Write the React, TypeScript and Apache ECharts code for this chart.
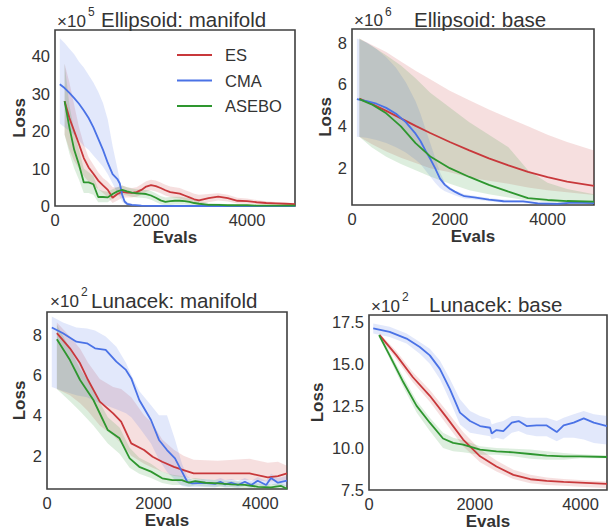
import React, { useEffect, useRef } from "react";
import * as echarts from "echarts";

// ---------- shared ticks ----------
const xTicks = [0, 2000, 4000];
const p1YTicks = [0, 10, 20, 30, 40];
const p2YTicks = [2, 4, 6, 8];
const p3YTicks = [2, 4, 6, 8];
const p4YTicks = [7.5, 10, 12.5, 15, 17.5];

// ---------- Panel 1: Ellipsoid manifold (x1e5) ----------
const p1X = [200,300,400,500,600,700,800,900,1000,1100,1200,1300,1400,1500,1600,1700,1800,1900,2000,2100,2200,2300,2400,2500,2600,2700,2800,2900,3000,3200,3400,3600,3800,4000,4200,4400,4600,4800,5000];
const p1EsMean = [28,23.5,20,16.5,12.8,10.3,8.6,6.8,5.5,4.3,2.2,3.2,3.8,3.6,3.5,3.7,4.3,5.2,5.6,5.3,4.8,4.2,3.7,3.5,3.3,2.8,2.3,1.8,1.5,2.1,2.5,2.1,1.4,1.3,1.0,0.8,0.7,0.6,0.5];
const p1EsHi = [38,33,27,21,16.5,13,11,9,7.5,6.5,5,5,5.5,5,4.8,5,5.8,6.6,7,6.8,6.3,5.7,5.2,5,4.8,4.3,3.8,3.3,3,3.2,3.4,3,2.2,2,1.6,1.3,1.1,0.9,0.8];
const p1EsLo = [19,15,12,10,8,6.5,5.5,4.5,3.5,2.3,0.8,1.5,2.2,2.3,2.3,2.5,3,3.8,4.2,3.9,3.4,2.8,2.4,2.2,2,1.5,1,0.6,0.4,1,1.5,1.2,0.7,0.6,0.5,0.4,0.3,0.3,0.3];
const p1AsMean = [28,21,15,11,6.3,6.3,5.8,2.4,2.4,2.3,3.2,3.9,4.3,3.9,3.6,3.4,3.3,3.2,2.8,2.2,1.5,1.1,1.3,1.4,1.4,1.3,1.1,0.8,0.6,0.3,0.3,0.2,0.2,0.2,0.1,0.1,0.1,0.1,0.1];
const p1AsHi = [38,27,20,15,10,9,8,4.5,4,3.8,4.5,5,5.5,5,4.7,4.5,4.4,4.3,4,3.4,2.7,2.3,2.4,2.5,2.5,2.3,2,1.6,1.3,0.8,0.7,0.5,0.4,0.4,0.3,0.3,0.3,0.2,0.2];
const p1AsLo = [19,14,10,7,3.5,3.5,3,1,1,1,2,2.8,3.1,2.8,2.5,2.3,2.2,2.1,1.7,1.1,0.5,0.2,0.3,0.4,0.4,0.4,0.3,0.1,0,0,0,0,0,0,0,0,0,0,0];
const p1CmaX = [100,200,300,400,500,600,700,800,900,1000,1100,1200,1300,1350,1400,1450,1500,1600,1800,2000,2500,3000,3500,4000,4500,5000];
const p1CmaMean = [32.5,31.5,30.2,28.8,27.3,25.5,23.5,21,18,15,11.5,8.5,7.2,6,3,1.2,0.6,0.3,0.1,0.05,0,0,0,0,0,0];
const p1CmaHi = [44.8,43.5,42,40.5,38.5,37,35,33,30.5,27.5,23,16,10,7,3.5,1.8,1,0.6,0.3,0.1,0,0,0,0,0,0];
const p1CmaLo = [22,21,20,19,17.5,16,15,13.5,12,10.5,8.5,6,3.5,2.5,1.2,0.5,0.3,0.1,0,0,0,0,0,0,0,0];

// ---------- Panel 2: Ellipsoid base (x1e6) ----------
const p2X = [150,400,700,1000,1300,1600,2000,2400,2800,3200,3600,4000,4400,4950];
const p2EsMean = [5.32,5.08,4.74,4.38,4.02,3.68,3.25,2.85,2.47,2.13,1.82,1.57,1.36,1.15];
const p2EsHi = [8.2,7.9,7.55,7.1,6.65,6.25,5.7,5.25,4.8,4.4,4.0,3.6,3.25,2.85];
const p2EsLo = [3.5,3.15,2.8,2.5,2.25,2.0,1.8,1.55,1.4,1.25,1.08,0.95,0.85,0.72];
const p2AsMean = [5.3,5.05,4.62,4.0,3.2,2.56,2.0,1.58,1.2,0.88,0.57,0.48,0.43,0.4];
const p2AsHi = [8.2,7.85,7.4,6.9,6.3,5.6,4.9,4.2,3.6,3.0,1.9,1.3,1.0,0.75];
const p2AsLo = [3.5,3.0,2.55,2.2,1.9,1.6,1.25,0.95,0.75,0.6,0.45,0.38,0.34,0.32];
const p2CmaX = [100,300,500,700,900,1100,1300,1400,1500,1600,1700,1800,1900,2000,2100,2200,2300,2500,2800,3100,3500,3800,4200,4500,4950];
const p2CmaMean = [5.3,5.2,5.08,4.88,4.6,4.2,3.65,3.3,2.85,2.45,2.0,1.5,1.2,1.02,0.88,0.76,0.66,0.6,0.5,0.42,0.41,0.32,0.29,0.35,0.33];
const p2CmaHi = [8.2,8.0,7.7,7.3,6.8,6.1,5.2,4.6,3.9,3.2,2.5,1.8,1.3,1.1,0.95,0.85,0.75,0.68,0.58,0.5,0.47,0.38,0.35,0.4,0.38];
const p2CmaLo = [3.5,3.45,3.35,3.2,3.0,2.75,2.4,2.2,1.9,1.6,1.3,1.05,0.9,0.8,0.7,0.62,0.55,0.5,0.42,0.35,0.34,0.27,0.25,0.3,0.29];

// ---------- Panel 3: Lunacek manifold (x1e2) ----------
const p3CmaX = [90,300,550,750,900,1100,1300,1480,1580,1730,1950,2100,2250,2400,2530,2630,2720,2940,3150,3250,3340,3460,3580,3710,3830,3950,4110,4200,4330,4500];
const p3CmaMean = [8.35,8.07,7.65,7.57,7.32,7.24,6.66,6.25,5.83,4.76,3.77,2.78,2.28,1.87,1.21,0.71,0.63,0.66,0.6,0.71,0.58,0.66,0.55,0.71,0.55,0.76,0.55,0.9,0.66,0.76];
const p3CmaHi = [8.9,8.6,8.35,8.3,8.2,7.9,7.4,6.6,6.0,5.2,4.5,4.0,4.0,2.8,1.6,1.0,0.8,0.85,0.8,0.9,0.8,0.85,0.75,0.9,0.75,0.95,0.75,1.1,0.9,1.0];
const p3CmaLo = [5.4,5.2,5.0,4.9,4.7,4.5,4.3,4.1,3.9,3.4,2.6,1.8,1.2,0.8,0.5,0.45,0.45,0.45,0.42,0.5,0.42,0.45,0.4,0.5,0.4,0.55,0.4,0.6,0.45,0.5];
const p3EsX = [185,430,620,770,990,1240,1390,1580,1820,1980,2160,2380,2560,2750,3200,3800,4140,4330,4500];
const p3EsMean = [8.07,7.32,6.58,5.75,4.68,4.1,3.69,2.61,2.28,1.95,1.7,1.45,1.29,1.12,1.12,1.12,0.93,0.99,1.12];
const p3EsHi = [8.6,7.9,7.3,6.6,5.8,5.4,5.3,4.9,4.0,3.6,2.8,2.3,2.0,1.8,1.75,1.85,1.65,1.7,1.5];
const p3EsLo = [5.3,5.0,4.6,4.2,3.5,3.0,2.6,2.0,1.6,1.4,1.2,1.0,0.95,0.85,0.8,0.8,0.72,0.75,0.8];
const p3AsX = [185,430,620,870,1020,1140,1360,1550,1730,1950,2160,2350,2530,2660,2780,2970,3210,3460,3710,3960,4200,4390,4500];
const p3AsMean = [7.77,6.74,5.75,4.76,3.93,3.27,2.86,1.87,1.45,1.21,0.88,0.79,0.79,0.66,0.74,0.66,0.63,0.58,0.55,0.46,0.43,0.5,0.36];
const p3AsHi = [8.5,7.3,6.3,5.3,4.5,3.9,3.4,2.4,1.9,1.6,1.2,1.05,1.0,0.85,0.9,0.82,0.8,0.75,0.7,0.62,0.58,0.65,0.5];
const p3AsLo = [5.3,4.7,4.2,3.5,3.0,2.6,2.1,1.4,1.1,0.9,0.65,0.55,0.55,0.48,0.52,0.48,0.45,0.42,0.4,0.38,0.36,0.38,0.36];

// ---------- Panel 4: Lunacek base (x1e2) ----------
const p4CmaX = [80,390,710,960,1150,1340,1530,1720,1910,2100,2290,2320,2410,2540,2700,2830,2980,3170,3360,3550,3680,3870,4060,4250,4500];
const p4CmaMean = [17.1,16.9,16.5,16.0,15.5,14.7,13.5,12.1,11.6,11.3,11.2,10.86,11.06,11.0,11.5,11.6,11.3,11.34,11.34,10.94,11.34,11.5,11.76,11.5,11.3];
const p4CmaHi = [17.4,17.2,16.8,16.3,15.9,15.2,14.1,12.9,12.2,11.9,11.7,11.4,11.5,11.6,11.9,11.9,11.8,11.8,11.8,11.6,11.8,12.0,12.2,12.0,11.9];
const p4CmaLo = [16.8,16.6,16.2,15.6,15.0,14.1,12.8,11.4,10.9,10.8,10.7,10.5,10.6,10.5,10.9,11.0,10.8,10.7,10.7,10.4,10.6,10.6,10.5,10.3,10.2];
const p4EsX = [200,520,830,1150,1470,1780,2100,2410,2730,3050,3360,3680,3990,4500];
const p4EsMean = [16.7,15.5,14.2,13.1,11.8,10.5,9.5,8.9,8.4,8.14,8.04,7.98,7.94,7.86];
const p4EsHi = [16.8,15.75,14.5,13.45,12.2,10.95,9.9,9.25,8.7,8.4,8.25,8.15,8.1,8.0];
const p4EsLo = [16.55,15.25,13.9,12.75,11.4,10.1,9.15,8.6,8.15,7.9,7.8,7.75,7.7,7.6];
const p4AsX = [190,390,650,900,1150,1400,1590,1780,2100,2410,2730,3050,3360,3680,3990,4500];
const p4AsMean = [16.7,15.5,13.9,12.5,11.5,10.56,10.3,10.2,9.9,9.8,9.74,9.64,9.54,9.5,9.5,9.46];
const p4AsHi = [16.8,15.7,14.2,12.8,11.8,10.9,10.6,10.45,10.1,10.0,9.95,9.9,9.8,9.7,9.62,9.55];
const p4AsLo = [16.6,15.3,13.6,12.1,11.0,10.0,9.8,9.75,9.6,9.6,9.5,9.35,9.3,9.3,9.38,9.38];

const COLORS: Record<string, string> = { ES: "#c8383b", CMA: "#4a72e6", ASEBO: "#2e962f" };
const FONT = "'Liberation Sans', Arial, Helvetica, sans-serif";
const TXT = "#333333";

type Curve = { name: string; x: number[]; mean: number[]; lo: number[]; hi: number[] };
type Panel = {
  title: string; exp: string;
  grid: { left: number; top: number; width: number; height: number };
  xMax: number; yMin: number; yMax: number; yTicks: number[]; dec: number;
  lossGap: number;
  expX: number; expY: number; titleX: number; titleY: number;
  curves: Curve[];
};

const panels: Panel[] = [
  {
    title: "Ellipsoid: manifold", exp: "5",
    grid: { left: 55, top: 30, width: 240, height: 176 },
    xMax: 5000, yMin: 0, yMax: 47, yTicks: p1YTicks, dec: 0, lossGap: 27,
    expX: 57, expY: 21, titleX: 101, titleY: 19.5,
    curves: [
      { name: "ES", x: p1X, mean: p1EsMean, lo: p1EsLo, hi: p1EsHi },
      { name: "CMA", x: p1CmaX, mean: p1CmaMean, lo: p1CmaLo, hi: p1CmaHi },
      { name: "ASEBO", x: p1X, mean: p1AsMean, lo: p1AsLo, hi: p1AsHi },
    ],
  },
  {
    title: "Ellipsoid: base", exp: "6",
    grid: { left: 352, top: 29, width: 242, height: 176 },
    xMax: 4950, yMin: 0.24, yMax: 8.65, yTicks: p2YTicks, dec: 0, lossGap: 18,
    expX: 354, expY: 20.5, titleX: 414, titleY: 19,
    curves: [
      { name: "ES", x: p2X, mean: p2EsMean, lo: p2EsLo, hi: p2EsHi },
      { name: "CMA", x: p2CmaX, mean: p2CmaMean, lo: p2CmaLo, hi: p2CmaHi },
      { name: "ASEBO", x: p2X, mean: p2AsMean, lo: p2AsLo, hi: p2AsHi },
    ],
  },
  {
    title: "Lunacek: manifold", exp: "2",
    grid: { left: 47, top: 312, width: 240, height: 177 },
    xMax: 4500, yMin: 0.35, yMax: 9.12, yTicks: p3YTicks, dec: 0, lossGap: 19,
    expX: 50, expY: 301, titleX: 91, titleY: 300,
    curves: [
      { name: "ES", x: p3EsX, mean: p3EsMean, lo: p3EsLo, hi: p3EsHi },
      { name: "CMA", x: p3CmaX, mean: p3CmaMean, lo: p3CmaLo, hi: p3CmaHi },
      { name: "ASEBO", x: p3AsX, mean: p3AsMean, lo: p3AsLo, hi: p3AsHi },
    ],
  },
  {
    title: "Lunacek: base", exp: "2",
    grid: { left: 369, top: 315, width: 238, height: 175 },
    xMax: 4500, yMin: 7.5, yMax: 17.9, yTicks: p4YTicks, dec: 1, lossGap: 43,
    expX: 371, expY: 306, titleX: 429, titleY: 304,
    curves: [
      { name: "ES", x: p4EsX, mean: p4EsMean, lo: p4EsLo, hi: p4EsHi },
      { name: "CMA", x: p4CmaX, mean: p4CmaMean, lo: p4CmaLo, hi: p4CmaHi },
      { name: "ASEBO", x: p4AsX, mean: p4AsMean, lo: p4AsLo, hi: p4AsHi },
    ],
  },
];

function buildOption() {
  const grids: any[] = [];
  const xAxes: any[] = [];
  const yAxes: any[] = [];
  const series: any[] = [];
  const graphics: any[] = [];

  panels.forEach((p, i) => {
    grids.push({
      ...p.grid,
      show: true,
      borderColor: "#3f3f3f",
      borderWidth: 1.6,
      backgroundColor: "transparent",
      containLabel: false,
      outerBoundsMode: "none",
    });
    xAxes.push({
      type: "value", gridIndex: i, min: 0, max: p.xMax,
      axisLine: { show: false }, axisTick: { show: false }, splitLine: { show: false },
      axisLabel: {
        customValues: xTicks, fontSize: 16.5, color: TXT, fontFamily: FONT, margin: 5,
        formatter: (v: number) => String(v),
      },
      name: "Evals", nameLocation: "middle", nameGap: 21,
      nameTextStyle: { fontSize: 17, fontWeight: "bold", color: TXT, fontFamily: FONT },
    });
    yAxes.push({
      type: "value", gridIndex: i, min: p.yMin, max: p.yMax,
      axisLine: { show: false }, axisTick: { show: false }, splitLine: { show: false },
      axisLabel: {
        customValues: p.yTicks, fontSize: 16.5, color: TXT, fontFamily: FONT, margin: 5,
        formatter: (v: number) => v.toFixed(p.dec),
      },
      name: "Loss", nameLocation: "middle", nameGap: p.lossGap, nameRotate: 90,
      nameTextStyle: { fontSize: 17, fontWeight: "bold", color: TXT, fontFamily: FONT },
    });

    p.curves.forEach((c) => {
      const color = COLORS[c.name];
      series.push({
        type: "custom",
        name: c.name + " band",
        xAxisIndex: i, yAxisIndex: i,
        silent: true, clip: true, z: 2,
        data: c.x.map((x, k) => [x, c.lo[k], c.hi[k]]),
        encode: { x: 0, y: [1, 2] },
        renderItem: (params: any, api: any) => {
          if (params.dataIndex !== 0) return null;
          const pts: number[][] = [];
          for (let k = 0; k < c.x.length; k++) pts.push(api.coord([c.x[k], c.hi[k]]));
          for (let k = c.x.length - 1; k >= 0; k--) pts.push(api.coord([c.x[k], c.lo[k]]));
          return {
            type: "polygon",
            shape: { points: pts },
            style: { fill: color, opacity: 0.16, stroke: null },
          };
        },
      });
    });
    p.curves.forEach((c) => {
      series.push({
        type: "line",
        name: c.name,
        xAxisIndex: i, yAxisIndex: i,
        data: c.x.map((x, k) => [x, c.mean[k]]),
        showSymbol: false, symbol: "none",
        color: COLORS[c.name],
        lineStyle: { width: 1.8, color: COLORS[c.name] },
        z: 3, silent: true,
      });
    });

    graphics.push(
      {
        type: "text", x: p.expX, y: p.expY,
        style: { text: "×10", fontSize: 17, fontFamily: FONT, fill: TXT, align: "left", verticalAlign: "middle" },
      },
      {
        type: "text", x: p.expX + 31, y: p.expY - 9,
        style: { text: p.exp, fontSize: 12, fontFamily: FONT, fill: TXT, align: "left", verticalAlign: "middle" },
      },
      {
        type: "text", x: p.titleX, y: p.titleY,
        style: { text: p.title, fontSize: 20.5, fontFamily: FONT, fill: TXT, align: "left", verticalAlign: "middle" },
      }
    );
  });

  return {
    animation: false,
    backgroundColor: "#ffffff",
    textStyle: { fontFamily: FONT },
    grid: grids,
    xAxis: xAxes,
    yAxis: yAxes,
    series,
    graphic: graphics,
    legend: {
      data: ["ES", "CMA", "ASEBO"],
      orient: "vertical",
      left: 172, top: 38,
      icon: "rect",
      itemWidth: 35, itemHeight: 2,
      itemGap: 1.5,
      selectedMode: false,
      textStyle: { fontSize: 16.5, color: TXT, fontFamily: FONT, lineHeight: 24, padding: [0, 0, 0, 8] },
    },
  };
}

export default function App() {
  const ref = useRef<HTMLDivElement>(null);
  useEffect(() => {
    if (!ref.current) return;
    const chart = echarts.init(ref.current, null, { renderer: "svg" });
    chart.setOption(buildOption() as any);
    return () => chart.dispose();
  }, []);
  return (
    <div
      ref={ref}
      style={{ position: "absolute", left: 0, top: 0, width: 613, height: 531, background: "#fff" }}
    />
  );
}
